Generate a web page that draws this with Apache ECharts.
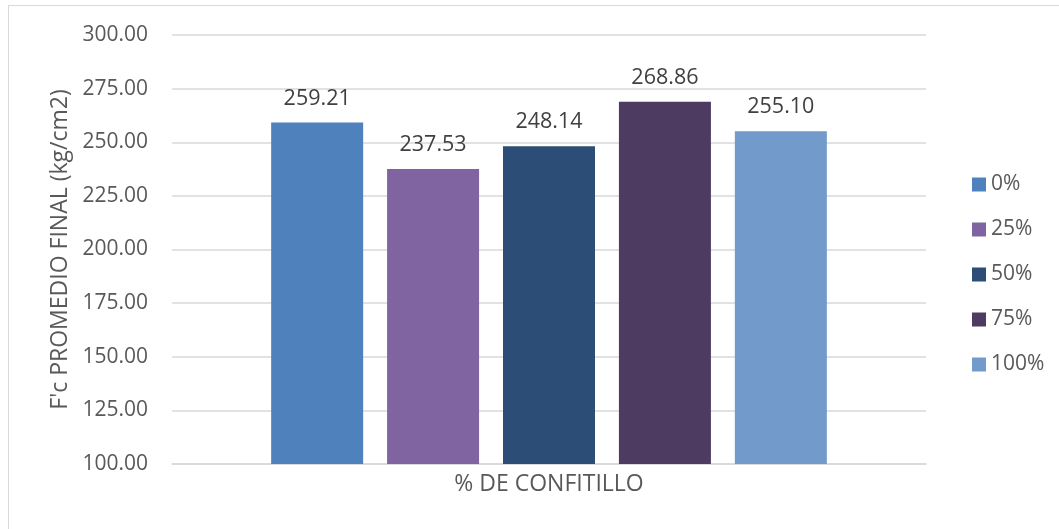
<!DOCTYPE html>
<html>
<head>
<meta charset="utf-8">
<script src="https://cdn.jsdelivr.net/npm/echarts@6/dist/echarts.min.js"></script>
<style>
  html, body { margin: 0; padding: 0; background: #ffffff; }
  #frame { position: absolute; left: 8px; top: 5px; width: 1060px; height: 540px;
           border: 1.5px solid #d9d9d9; box-sizing: border-box; }
  #chart { position: absolute; left: 0; top: 0; width: 1059px; height: 529px; }
</style>
</head>
<body>
<div id="frame"></div>
<div id="chart"></div>
<script>
// Average final compressive strength by confitillo replacement percentage
const categories = ['% DE CONFITILLO'];
const seriesNames = ['0%', '25%', '50%', '75%', '100%'];
const seriesValues = [259.21, 237.53, 248.14, 268.86, 255.10];
const seriesColors = ['#4f81bd', '#8064a2', '#2c4d75', '#4d3b62', '#729aca'];
const yTicks = { min: 100, max: 300, interval: 25 };

const FONT = '"Open Sans", "Liberation Sans", sans-serif';
const TEXT = '#595959';

const chart = echarts.init(document.getElementById('chart'), null, { renderer: 'canvas' });

const series = seriesNames.map((name, i) => ({
  name: name,
  type: 'bar',
  data: [seriesValues[i]],
  barWidth: 92,
  barGap: '26%',
  itemStyle: { color: seriesColors[i] },
  label: {
    show: true,
    position: 'top',
    distance: 13,
    color: '#404040',
    fontSize: 21.5,
    fontFamily: FONT,
    formatter: p => p.value.toFixed(2)
  }
}));

chart.setOption({
  backgroundColor: 'transparent',
  animation: false,
  grid: { left: 172, right: 133, top: 35, bottom: 65 },
  legend: {
    orient: 'vertical',
    left: 967,
    top: 169,
    itemWidth: 14,
    itemHeight: 14,
    itemGap: 24,
    icon: 'rect',
    data: seriesNames,
    textStyle: { color: TEXT, fontSize: 21, fontFamily: FONT }
  },
  xAxis: {
    type: 'category',
    data: categories,
    name: categories[0],
    nameLocation: 'middle',
    nameGap: 9,
    nameTextStyle: { color: TEXT, fontSize: 23, fontFamily: FONT, verticalAlign: 'top' },
    axisLine: { show: true, lineStyle: { color: '#d9d9d9', width: 1.5 } },
    axisTick: { show: false },
    axisLabel: { show: false }
  },
  yAxis: {
    type: 'value',
    min: yTicks.min,
    max: yTicks.max,
    interval: yTicks.interval,
    name: "F'c PROMEDIO FINAL (kg/cm2)",
    nameLocation: 'middle',
    nameGap: 100,
    nameTextStyle: { color: TEXT, fontSize: 23, fontFamily: FONT },
    axisLine: { show: false },
    axisTick: { show: false },
    axisLabel: {
      color: TEXT, fontSize: 21, fontFamily: FONT, margin: 24,
      formatter: v => v.toFixed(2)
    },
    splitLine: { lineStyle: { color: '#d9d9d9', width: 1.5 } }
  },
  series: series
});
</script>
</body>
</html>
